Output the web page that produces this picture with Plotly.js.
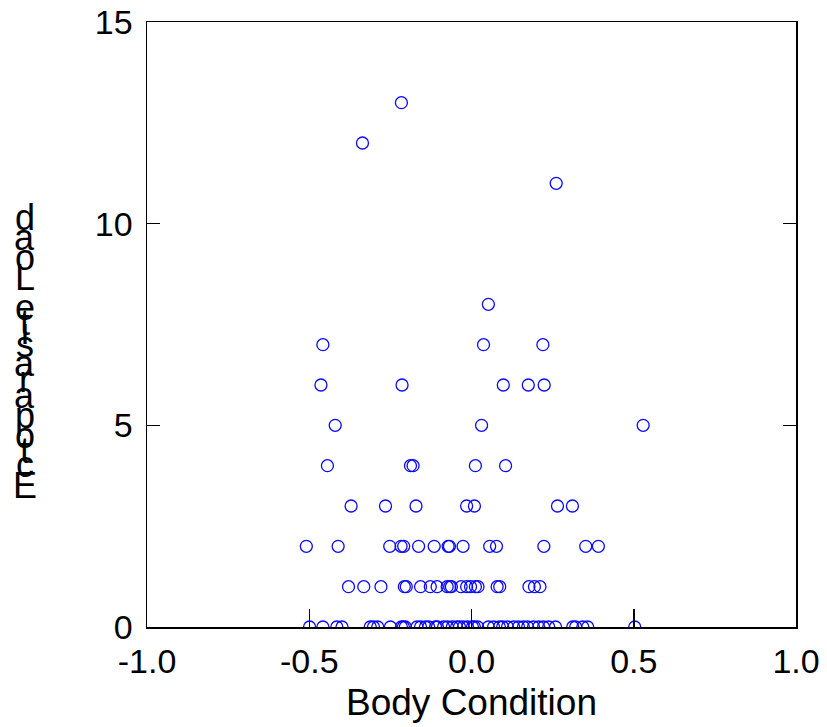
<!DOCTYPE html>
<html>
<head>
<meta charset="utf-8">
<script src="https://cdn.plot.ly/plotly-3.0.1.min.js"></script>
<style>
  html, body { margin: 0; padding: 0; background: #fff; }
  #chart { width: 827px; height: 727px; }
</style>
</head>
<body>
<div id="chart"></div>
<script>
// ---- Data ----
const load13 = [-0.216];
const load12 = [-0.336];
const load11 = [0.261];
const load8  = [0.052];
const load7  = [-0.458, 0.037, 0.220];
const load6  = [-0.464, -0.214, 0.098, 0.175, 0.224];
const load5  = [-0.420, 0.031, 0.529];
const load4  = [-0.444, -0.188, -0.180, 0.012, 0.105];
const load3  = [-0.371, -0.265, -0.171, -0.015, 0.009, 0.265, 0.311];
const load2  = [-0.509, -0.411, -0.252, -0.217, -0.209, -0.163, -0.115, -0.072, -0.068,
                -0.026, 0.056, 0.077, 0.223, 0.352, 0.391];
const load1  = [-0.379, -0.332, -0.279, -0.207, -0.201, -0.157, -0.127, -0.106, -0.075,
                -0.067, -0.062, -0.032, -0.015, -0.003, 0.012, 0.020, 0.079, 0.087,
                0.177, 0.194, 0.211];
const load0  = [-0.499, -0.458, -0.415, -0.399, -0.312, -0.302, -0.289, -0.250, -0.216,
                -0.210, -0.204, -0.168, -0.157, -0.142, -0.132, -0.111, -0.105, -0.086,
                -0.074, -0.059, -0.046, -0.037, -0.025, -0.012, 0.003, 0.009, 0.019,
                0.052, 0.068, 0.086, 0.096, 0.111, 0.130, 0.145, 0.160, 0.173, 0.191,
                0.207, 0.222, 0.238, 0.259, 0.312, 0.321, 0.343, 0.358, 0.503];

const loadGroups = [
  [0, load0], [1, load1], [2, load2], [3, load3], [4, load4], [5, load5],
  [6, load6], [7, load7], [8, load8], [11, load11], [12, load12], [13, load13]
];
const bodyCondition = [];
const ectoparasiteLoad = [];
loadGroups.forEach(([y, xs]) => xs.forEach(x => { bodyCondition.push(x); ectoparasiteLoad.push(y); }));

const xTickVals = [-1.0, -0.5, 0.0, 0.5, 1.0];
const xTickText = ["-1.0", "-0.5", "0.0", "0.5", "1.0"];
const yTickVals = [0, 5, 10, 15];
const yTickText = ["0", "5", "10", "15"];
const xTitle = "Body Condition";
const yTitle = "Ectoparasite Load";

// ---- Layout constants ----
const W = 827, H = 727;
const M = { l: 147, r: 31, t: 22, b: 100 };
const plotW = W - M.l - M.r, plotH = H - M.t - M.b;
const FONT = '"Liberation Sans", Arial, Helvetica, sans-serif';
const tickSize = 34, yTitleSize = 36, xTitleSize = 37;

// y title: upright glyphs stacked bottom-to-top following their advance widths
const cv = document.createElement('canvas').getContext('2d');
cv.font = yTitleSize + 'px "Liberation Sans", Arial, sans-serif';
const annotations = [];
let cum = 0;
const startPx = 510; // px from top where the vertical run begins
for (const ch of yTitle) {
  const adv = cv.measureText(ch).width;
  const centre = cum + adv / 2;
  cum += adv;
  if (ch === ' ') continue;
  const ypx = startPx - centre - yTitleSize * 0.35;
  annotations.push({
    text: ch, xref: 'paper', yref: 'paper',
    x: (25 - M.l) / plotW, y: (H - M.b - ypx) / plotH,
    xanchor: 'center', yanchor: 'middle', showarrow: false,
    font: { family: FONT, size: yTitleSize, color: '#000' }
  });
}

const trace = {
  type: 'scatter', mode: 'markers',
  x: bodyCondition, y: ectoparasiteLoad,
  marker: { symbol: 'circle-open', size: 12, color: '#0a0aff', line: { width: 1.3, color: '#0a0aff' } },
  hoverinfo: 'x+y'
};

const layout = {
  width: W, height: H,
  margin: M,
  paper_bgcolor: '#fff', plot_bgcolor: '#fff',
  showlegend: false,
  font: { family: FONT, color: '#000' },
  xaxis: {
    range: [-1, 1], tickvals: xTickVals, ticktext: xTickText,
    ticks: 'inside', ticklen: 18, tickwidth: 1.5, tickcolor: '#000',
    showline: true, linecolor: '#000', linewidth: 1.5, mirror: true,
    showgrid: false, zeroline: false,
    ticklabelstandoff: 4,
    tickfont: { family: FONT, size: tickSize, color: '#000' },
    title: { text: xTitle, font: { family: FONT, size: xTitleSize, color: '#000' }, standoff: 10 }
  },
  yaxis: {
    range: [0, 15], tickvals: yTickVals, ticktext: yTickText,
    ticks: 'inside', ticklen: 13, tickwidth: 1.5, tickcolor: '#000',
    showline: true, linecolor: '#000', linewidth: 1.5, mirror: 'ticks',
    showgrid: false, zeroline: false,
    ticklabelstandoff: 6,
    tickfont: { family: FONT, size: tickSize, color: '#000' }
  },
  annotations: annotations
};

Plotly.newPlot('chart', [trace], layout, { displayModeBar: false, staticPlot: true });
</script>
</body>
</html>
